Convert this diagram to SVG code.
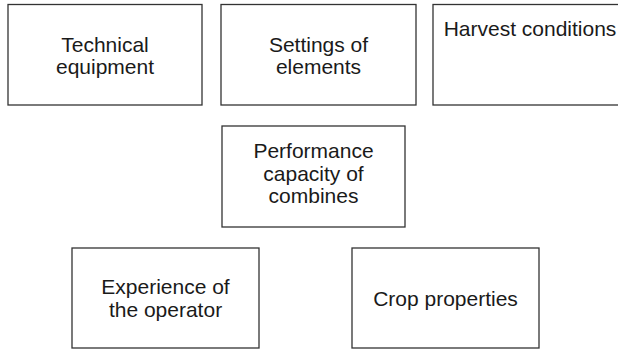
<svg xmlns="http://www.w3.org/2000/svg" width="618" height="349" viewBox="0 0 618 349">
<style>
.box{fill:#fff;stroke:#333;stroke-width:1.3}
.t{font-family:"Liberation Sans",Arial,Helvetica,sans-serif;font-size:21px;fill:#1a1a1a;text-anchor:middle}
</style>
<rect width="618" height="349" fill="#fff"/>
<g id="technical-equipment">
<rect class="box" x="8" y="4.5" width="194" height="100.5"/>
<text class="t" x="105" y="51.5">Technical</text>
<text class="t" x="105" y="73.5">equipment</text>
</g>
<g id="settings-of-elements">
<rect class="box" x="221" y="4.5" width="195" height="100.5"/>
<text class="t" x="318.5" y="51.5">Settings of</text>
<text class="t" x="318.5" y="73.5">elements</text>
</g>
<g id="harvest-conditions">
<rect class="box" x="433" y="4.5" width="195" height="100.5"/>
<text class="t" x="530" y="36">Harvest conditions</text>
</g>
<g id="performance-capacity">
<rect class="box" x="222" y="126" width="183" height="101"/>
<text class="t" x="313.5" y="158">Performance</text>
<text class="t" x="313.5" y="180.5">capacity of</text>
<text class="t" x="313.5" y="203">combines</text>
</g>
<g id="experience-operator">
<rect class="box" x="72" y="248" width="187" height="100"/>
<text class="t" x="165.5" y="294">Experience of</text>
<text class="t" x="165.5" y="317">the operator</text>
</g>
<g id="crop-properties">
<rect class="box" x="352" y="248" width="187" height="100"/>
<text class="t" x="445.5" y="306">Crop properties</text>
</g>
<g id="connectors"></g>
</svg>
